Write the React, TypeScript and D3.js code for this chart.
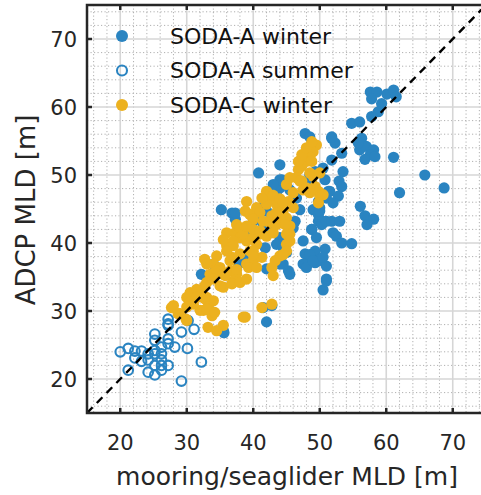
import React from "react";
import * as d3 from "d3";

// Mixed-layer depth comparison: ADCP estimate vs mooring/seaglider estimate [m]
const sodaAWinter: [number, number][] = [
  [57.6, 62.2], [58.6, 62.2], [60.1, 61.9], [61.1, 62.5], [61.5, 61.5], [57.8, 61.2], [59.3, 60.5],
  [58.8, 59.3], [57.8, 58.6], [54.8, 57.6], [56.0, 57.8], [56.3, 55.4], [56.0, 53.7], [57.0, 54.2],
  [58.1, 53.7], [57.6, 53.0], [56.8, 52.3], [58.3, 52.7], [55.8, 54.7], [61.1, 52.6], [51.8, 55.4],
  [52.3, 54.7], [53.3, 53.2], [51.8, 52.2], [47.8, 56.1], [53.5, 50.5], [52.9, 49.1], [53.3, 48.3],
  [51.5, 47.6], [51.0, 46.6], [52.8, 46.9], [52.0, 45.9], [56.1, 45.4], [56.8, 44.0], [58.1, 43.5],
  [57.1, 42.7], [62.0, 47.4], [65.8, 50.0], [68.7, 48.1], [49.0, 44.9], [49.8, 43.2], [50.5, 43.2],
  [48.8, 42.0], [47.5, 40.3], [52.0, 41.5], [52.5, 41.0], [53.3, 40.0], [54.8, 39.9], [50.8, 39.1],
  [49.3, 38.8], [47.8, 38.4], [48.5, 37.4], [49.3, 37.1], [49.8, 37.4], [47.5, 36.9], [48.0, 36.4],
  [45.3, 35.9], [51.0, 36.6], [51.0, 34.7], [50.5, 33.1], [44.5, 36.9], [46.0, 42.2], [47.0, 44.9],
  [50.5, 51.0], [49.3, 50.5], [40.8, 50.3], [35.2, 44.9], [36.8, 44.4], [37.3, 43.5], [37.8, 42.2],
  [38.8, 41.5], [40.0, 43.2], [40.5, 44.0], [42.0, 42.2], [41.8, 39.3], [38.8, 37.9], [37.8, 36.9],
  [32.2, 35.4], [42.0, 28.4], [35.5, 27.1], [41.3, 45.2], [42.0, 44.7], [44.0, 40.8], [45.0, 38.6],
  [43.5, 39.8], [44.5, 39.3], [44.0, 36.9], [45.5, 35.4], [44.3, 49.3], [44.0, 48.1], [43.5, 47.1],
  [48.5, 55.6], [50.8, 49.3], [50.0, 45.2], [49.8, 44.2], [50.3, 42.7], [48.8, 42.0], [49.5, 40.8],
  [48.5, 38.3], [49.0, 37.4], [50.5, 37.9], [51.0, 34.4], [42.8, 30.8], [35.6, 26.8], [51.8, 55.6],
  [44.0, 51.5], [48.5, 50.0], [48.8, 48.8], [51.3, 47.6], [49.8, 46.1], [51.0, 43.2], [51.8, 43.2],
  [37.3, 44.4], [41.5, 42.7], [46.3, 43.2], [53.0, 43.2], [46.5, 46.6], [45.5, 47.8], [44.0, 49.3],
  [43.0, 48.6], [50.0, 44.7], [34.0, 36.9], [42.0, 36.2], [41.5, 30.5],
];

const sodaASummer: [number, number][] = [
  [27.2, 28.8], [27.2, 27.9], [29.2, 26.9], [30.2, 28.6], [31.1, 27.3], [25.2, 26.6], [25.2, 25.7],
  [27.2, 25.9], [27.2, 25.2], [28.2, 24.7], [26.2, 24.7], [20.0, 24.0], [21.2, 24.5], [22.2, 24.1],
  [23.2, 24.1], [24.2, 23.7], [22.2, 23.1], [23.2, 22.6], [25.2, 23.7], [26.2, 22.8], [25.2, 22.0],
  [26.2, 22.0], [27.2, 22.0], [26.2, 21.3], [24.2, 21.0], [25.2, 20.6], [21.2, 21.3], [30.1, 24.5],
  [32.2, 22.5], [29.2, 19.7], [27.2, 28.1], [25.2, 24.2], [26.2, 23.7], [24.2, 22.8],
];

const sodaCWinter: [number, number][] = [
  [49.5, 54.4], [49.0, 53.4], [48.5, 52.7], [48.0, 52.0], [47.3, 51.3], [46.8, 50.8], [46.5, 49.6],
  [47.3, 49.1], [48.5, 50.3], [49.0, 49.8], [49.3, 48.3], [49.8, 47.6], [50.0, 46.9], [48.5, 47.4],
  [47.5, 47.8], [46.0, 47.4], [45.3, 46.1], [44.5, 44.7], [45.0, 43.7], [45.5, 42.5], [45.5, 41.3],
  [45.0, 39.8], [44.0, 38.1], [43.3, 37.4], [42.8, 36.4], [43.0, 35.2], [41.3, 30.5], [42.8, 31.0],
  [38.8, 29.1], [35.5, 27.9], [33.2, 27.6], [34.5, 27.1], [32.0, 30.1], [34.0, 29.8], [30.5, 31.5],
  [29.0, 29.6], [30.0, 28.6], [27.7, 30.5], [42.0, 47.6], [42.5, 46.6], [43.5, 45.7], [42.0, 45.7],
  [39.0, 46.1], [38.8, 44.7], [37.5, 42.7], [37.3, 41.5], [38.0, 40.8], [39.0, 40.3], [40.0, 40.8],
  [41.0, 41.3], [42.0, 41.0], [43.0, 41.5], [43.5, 42.7], [44.0, 43.7], [42.8, 44.0], [41.5, 43.2],
  [40.0, 42.0], [40.5, 39.8], [39.5, 38.8], [38.0, 38.4], [36.8, 37.9], [36.0, 39.6], [34.5, 38.1],
  [34.0, 36.9], [35.0, 36.4], [33.5, 35.4], [33.0, 34.2], [32.0, 33.0], [30.5, 32.7], [30.0, 32.0],
  [31.5, 32.0], [31.0, 31.0], [33.0, 32.0], [34.0, 31.5], [32.7, 33.7], [35.5, 33.5], [36.5, 35.9],
  [37.5, 35.4], [37.0, 34.4], [35.5, 35.4], [39.0, 36.9], [40.0, 37.4], [41.3, 37.9], [40.0, 38.8],
  [36.0, 41.5], [35.5, 40.5], [37.0, 40.3], [38.0, 42.2], [39.5, 44.2], [40.5, 45.2], [41.3, 46.6],
  [45.0, 48.6], [45.5, 49.6], [46.8, 52.0], [47.3, 53.0], [48.0, 54.0], [48.8, 54.9], [48.8, 52.0],
  [47.0, 49.1], [49.0, 50.0], [50.0, 50.3], [48.0, 48.1], [50.5, 47.1], [49.8, 45.9], [46.0, 45.2],
  [44.8, 42.7], [45.0, 41.3], [45.5, 40.3], [45.0, 38.8], [44.5, 38.3], [41.0, 41.8], [38.5, 41.3],
  [37.0, 39.6], [36.0, 38.8], [32.7, 37.6], [33.0, 36.9], [34.5, 35.9], [35.8, 35.2], [34.0, 34.7],
  [35.0, 33.7], [36.8, 34.0], [38.0, 34.2], [39.0, 34.7], [39.3, 36.4], [37.5, 36.1], [36.5, 37.4],
  [31.5, 33.2], [31.5, 32.0], [30.5, 31.3], [30.0, 30.6], [32.7, 31.8], [33.2, 30.6], [32.5, 30.1],
  [33.8, 29.3], [28.0, 30.8], [38.5, 29.1], [40.5, 36.4], [40.0, 38.3], [28.7, 29.6], [29.9, 28.8],
  [33.0, 30.3], [34.2, 29.8], [43.0, 47.0], [44.0, 46.5], [41.0, 44.5], [40.0, 43.5], [42.5, 43.0],
  [39.0, 42.5], [43.5, 44.5], [44.5, 46.0],
];

const majorTicks = [20, 30, 40, 50, 60, 70];
const legendLabels = ["SODA-A winter", "SODA-A summer", "SODA-C winter"];
const axisDomain: [number, number] = [15, 75];

const BLUE = "#2a84c1";
const YELLOW = "#ecb11f";
const FONT = "'DejaVu Sans', sans-serif";

export default function App() {
  const W = 481;
  const H = 495;
  const left = 87;
  const right = 486;
  const top = 5;
  const bottom = 413;

  const x = d3.scaleLinear().domain(axisDomain).range([left, right]);
  const y = d3.scaleLinear().domain(axisDomain).range([bottom, top]);

  const minorTicks = d3.range(16, 75, 2).filter((v) => v % 10 !== 0);
  const tickLen = 5;

  const legendY = [36, 70.5, 105];

  return (
    <svg
      width={W}
      height={H}
      style={{ position: "absolute", left: 0, top: 0, background: "#fff" }}
      fontFamily={FONT}
    >
      <defs>
        <clipPath id="plotArea">
          <rect x={left} y={top} width={right - left} height={bottom - top} />
        </clipPath>
      </defs>

      {/* minor grid */}
      <g stroke="#b0b0b0" strokeWidth={1} strokeDasharray="1.2 2.3">
        {minorTicks.map((v) => (
          <line key={"mx" + v} x1={x(v)} x2={x(v)} y1={top} y2={bottom} />
        ))}
        {minorTicks.map((v) => (
          <line key={"my" + v} x1={left} x2={right} y1={y(v)} y2={y(v)} />
        ))}
      </g>
      {/* major grid */}
      <g stroke="#d6d6d6" strokeWidth={1.6}>
        {majorTicks.map((v) => (
          <line key={"gx" + v} x1={x(v)} x2={x(v)} y1={top} y2={bottom} />
        ))}
        {majorTicks.map((v) => (
          <line key={"gy" + v} x1={left} x2={right} y1={y(v)} y2={y(v)} />
        ))}
      </g>

      <g clipPath="url(#plotArea)">
        {sodaAWinter.map(([a, b], i) => (
          <circle key={"aw" + i} cx={x(a)} cy={y(b)} r={5.6} fill={BLUE} />
        ))}
        {sodaASummer.map(([a, b], i) => (
          <circle key={"as" + i} cx={x(a)} cy={y(b)} r={4.8} fill="none" stroke={BLUE} strokeWidth={2.1} />
        ))}
        {sodaCWinter.map(([a, b], i) => (
          <circle key={"cw" + i} cx={x(a)} cy={y(b)} r={5.6} fill={YELLOW} />
        ))}
        {/* 1:1 reference line */}
        <line
          x1={x(axisDomain[0])}
          y1={y(axisDomain[0])}
          x2={x(axisDomain[1])}
          y2={y(axisDomain[1])}
          stroke="#000"
          strokeWidth={2.4}
          strokeDasharray="8 6"
        />
      </g>

      {/* axes box and inward ticks */}
      <rect x={left} y={top} width={right - left} height={bottom - top} fill="none" stroke="#262626" strokeWidth={2.5} />
      <g stroke="#262626" strokeWidth={2.5}>
        {majorTicks.map((v) => (
          <g key={"t" + v}>
            <line x1={x(v)} x2={x(v)} y1={bottom} y2={bottom - tickLen} />
            <line x1={x(v)} x2={x(v)} y1={top} y2={top + tickLen} />
            <line x1={left} x2={left + tickLen} y1={y(v)} y2={y(v)} />
          </g>
        ))}
      </g>

      {/* tick labels */}
      <g fontSize={21} fill="#262626">
        {majorTicks.map((v) => (
          <text key={"xl" + v} x={x(v)} y={450} textAnchor="middle">
            {v}
          </text>
        ))}
        {majorTicks.map((v) => (
          <text key={"yl" + v} x={77} y={y(v)} dy="0.36em" textAnchor="end">
            {v}
          </text>
        ))}
      </g>

      {/* axis titles */}
      <text x={287} y={485} textAnchor="middle" fontSize={25} fill="#262626">
        mooring/seaglider MLD [m]
      </text>
      <text
        transform={`translate(35, 210) rotate(-90)`}
        textAnchor="middle"
        fontSize={26}
        fill="#262626"
      >
        ADCP MLD [m]
      </text>

      {/* legend */}
      <g>
        <circle cx={122} cy={legendY[0]} r={6} fill={BLUE} />
        <circle cx={122} cy={legendY[1]} r={5} fill="none" stroke={BLUE} strokeWidth={2.1} />
        <circle cx={122} cy={legendY[2]} r={6} fill={YELLOW} />
        {legendLabels.map((t, i) => (
          <text key={t} x={170} y={legendY[i]} dy="0.36em" fontSize={22} fill="#111">
            {t}
          </text>
        ))}
      </g>
    </svg>
  );
}
